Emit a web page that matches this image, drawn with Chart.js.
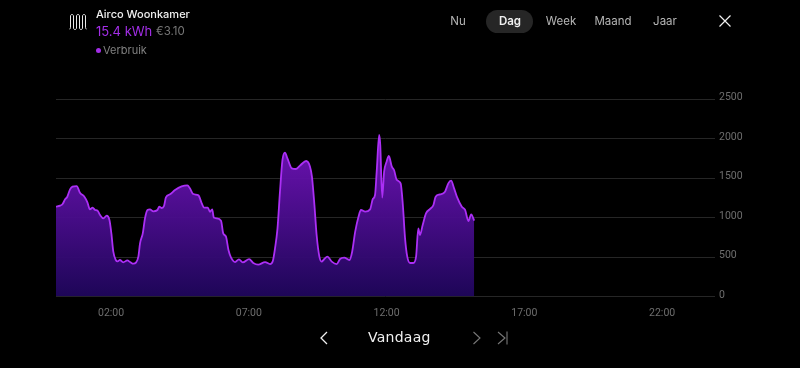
<!DOCTYPE html>
<html>
<head>
<meta charset="utf-8">
<script src="https://cdn.jsdelivr.net/npm/chart.js@4"></script>
<style>
html, body { margin: 0; padding: 0; background: #000; }
body { width: 800px; height: 368px; position: relative; overflow: hidden; font-family: Inter, Roboto, sans-serif; }
canvas { position: absolute; left: 0; top: 0; }
.t { position: absolute; white-space: nowrap; line-height: 1; }
.tab { color: #b5b5b5; font-size: 11.5px; top: 16px; transform: translateX(-50%); }
svg { position: absolute; overflow: visible; }
</style>
</head>
<body>
<canvas id="chart1" width="800" height="368"></canvas>

<svg style="left:69px;top:13px" width="20" height="17" fill="none" stroke="#e8e8e8" stroke-width="1">
  <path d="M0.5 16 C1.5 16 1.5 15 1.5 14 V3 C1.5 1 4.5 1 4.5 3 V15 C4.5 17 7.5 17 7.5 15 V3 C7.5 1 10.5 1 10.5 3 V15 C10.5 17 13.5 17 13.5 15 V3 C13.5 1 16.5 1 16.5 3 V14 C16.5 15 16.5 16 17.5 16"/>
</svg>
<div class="t" style="left:96px;top:9px;color:#f0f0f0;font-size:11px;font-weight:500">Airco Woonkamer</div>
<div class="t" style="left:96px;top:25px;color:#a32ee8;font-size:13px;font-weight:400">15.4 kWh</div>
<div class="t" style="left:156px;top:26px;color:#777;font-size:11.5px">€3.10</div>
<div style="position:absolute;left:96px;top:48px;width:5px;height:5px;border-radius:50%;background:#a32ee8"></div>
<div class="t" style="left:103px;top:45px;color:#808080;font-size:11px">Verbruik</div>

<div style="position:absolute;left:486px;top:10px;width:47px;height:23px;border-radius:12px;background:#262626"></div>
<div class="t tab" style="left:458px">Nu</div>
<div class="t tab" style="left:510px;color:#f0f0f0;font-weight:600">Dag</div>
<div class="t tab" style="left:561px">Week</div>
<div class="t tab" style="left:613px">Maand</div>
<div class="t tab" style="left:665px">Jaar</div>
<svg style="left:719px;top:15px" width="12" height="12" stroke="#f0f0f0" stroke-width="1.2">
  <path d="M0.5 0.5 L11.5 11.5 M11.5 0.5 L0.5 11.5"/>
</svg>

<svg style="left:319px;top:331px" width="10" height="14" fill="none" stroke="#f0f0f0" stroke-width="1.3">
  <path d="M8 1 L2 7 L8 13"/>
</svg>
<div class="t" style="left:368px;top:330px;color:#f0f0f0;font-size:14px;font-family:'DejaVu Sans';letter-spacing:0.25px">Vandaag</div>
<svg style="left:472px;top:331px" width="10" height="14" fill="none" stroke="#777" stroke-width="1.1">
  <path d="M1.5 1 L8 7 L1.5 13"/>
</svg>
<svg style="left:497px;top:331px" width="12" height="14" fill="none" stroke="#777" stroke-width="1.1">
  <path d="M1 1 L8 7 L1 13 M10 0.5 V13.5"/>
</svg>

<script>
// tijd in uren sinds middernacht, verbruik in watt
const hours = [0,.15,.24,.33,.41,.51,.6,.75,.87,1.03,1.14,1.23,1.33,1.42,1.51,1.6,1.72,1.84,1.94,2.01,2.08,2.17,2.24,2.32,2.44,2.59,2.69,2.81,2.9,2.99,3.05,3.15,3.23,3.32,3.41,3.53,3.68,3.75,3.84,3.92,3.99,4.14,4.32,4.56,4.77,4.86,4.98,5.17,5.29,5.38,5.51,5.59,5.67,5.73,5.83,5.99,6.07,6.17,6.26,6.35,6.5,6.64,6.78,7.01,7.16,7.34,7.59,7.77,7.87,7.95,8.04,8.13,8.22,8.31,8.4,8.56,8.71,8.88,9.08,9.22,9.29,9.38,9.46,9.56,9.64,9.74,9.85,10.01,10.19,10.31,10.46,10.65,10.75,10.86,10.98,11.07,11.22,11.4,11.5,11.58,11.64,11.73,11.77,11.84,11.91,12,12.08,12.19,12.27,12.37,12.51,12.59,12.67,12.75,12.85,12.97,13.07,13.15,13.21,13.31,13.43,13.58,13.7,13.78,13.94,14.12,14.24,14.34,14.45,14.55,14.73,14.85,14.97,15.07,15.18];
const usage = [1137,1150,1171,1230,1263,1356,1390,1398,1314,1263,1192,1103,1124,1095,1086,1031,989,1023,968,799,567,462,445,462,432,457,436,415,428,504,673,799,989,1095,1103,1078,1095,1137,1120,1145,1255,1293,1348,1394,1407,1369,1297,1280,1179,1124,1124,1073,1103,998,989,960,799,757,588,495,436,470,432,474,424,403,436,410,449,610,863,1327,1728,1821,1749,1622,1614,1665,1715,1643,1517,1158,778,504,441,475,504,441,411,475,491,462,567,821,1010,1095,1074,1103,1234,1285,1580,2044,1918,1251,1580,1707,1779,1643,1601,1475,1432,1158,736,504,424,424,504,863,778,905,1053,1108,1158,1264,1293,1327,1432,1466,1369,1264,1137,1095,956,1040,960];
const xTicks = [2, 7, 12, 17, 22];
const xLabels = ['02:00', '07:00', '12:00', '17:00', '22:00'];
const yTicks = [0, 500, 1000, 1500, 2000, 2500];
const yLabels = ['0', '500', '1000', '1500', '2000', '2500'];

const points = hours.map((h, i) => ({ x: h, y: usage[i] }));

const ctx = document.getElementById('chart1').getContext('2d');
new Chart(ctx, {
    type: 'line',
    data: {
        datasets: [{
            data: points,
            borderColor: '#ab2ff5',
            borderWidth: 1.8,
            pointRadius: 0,
            cubicInterpolationMode: 'monotone',
            fill: 'origin',
            backgroundColor: (c) => {
                const area = c.chart.chartArea;
                if (!area) return 'rgba(90,20,160,0.95)';
                const g = c.chart.ctx.createLinearGradient(0, c.chart.scales.y.getPixelForValue(1800), 0, area.bottom);
                g.addColorStop(0, 'rgba(108,18,180,0.95)');
                g.addColorStop(1, 'rgba(30,6,90,0.97)');
                return g;
            }
        }]
    },
    options: {
        responsive: false,
        animation: false,
        layout: { padding: { left: 56, top: 99, right: 0, bottom: 0 } },
        plugins: { legend: { display: false }, tooltip: { enabled: false } },
        scales: {
            x: {
                type: 'linear',
                min: 0,
                max: 23.92,
                afterBuildTicks: (s) => { s.ticks = xTicks.map(v => ({ value: v })); },
                afterFit: (s) => { s.height = 71.5; },
                grid: { display: false },
                border: { display: false },
                ticks: {
                    autoSkip: false,
                    maxRotation: 0,
                    padding: 3,
                    color: '#6e6e6e',
                    font: { family: 'Roboto', size: 10.5 },
                    callback: (v) => xLabels[xTicks.indexOf(v)]
                }
            },
            y: {
                position: 'right',
                min: 0,
                max: 2500,
                afterBuildTicks: (s) => { s.ticks = yTicks.map(v => ({ value: v })); },
                afterFit: (s) => { s.width = 85; },
                grid: { color: '#262626', lineWidth: 1, drawTicks: false },
                border: { display: false },
                ticks: {
                    padding: 4,
                    labelOffset: -1.5,
                    crossAlign: 'near',
                    color: '#6e6e6e',
                    font: { family: 'Roboto', size: 10.5 },
                    callback: (v) => yLabels[yTicks.indexOf(v)]
                }
            }
        }
    }
});
</script>
</body>
</html>
